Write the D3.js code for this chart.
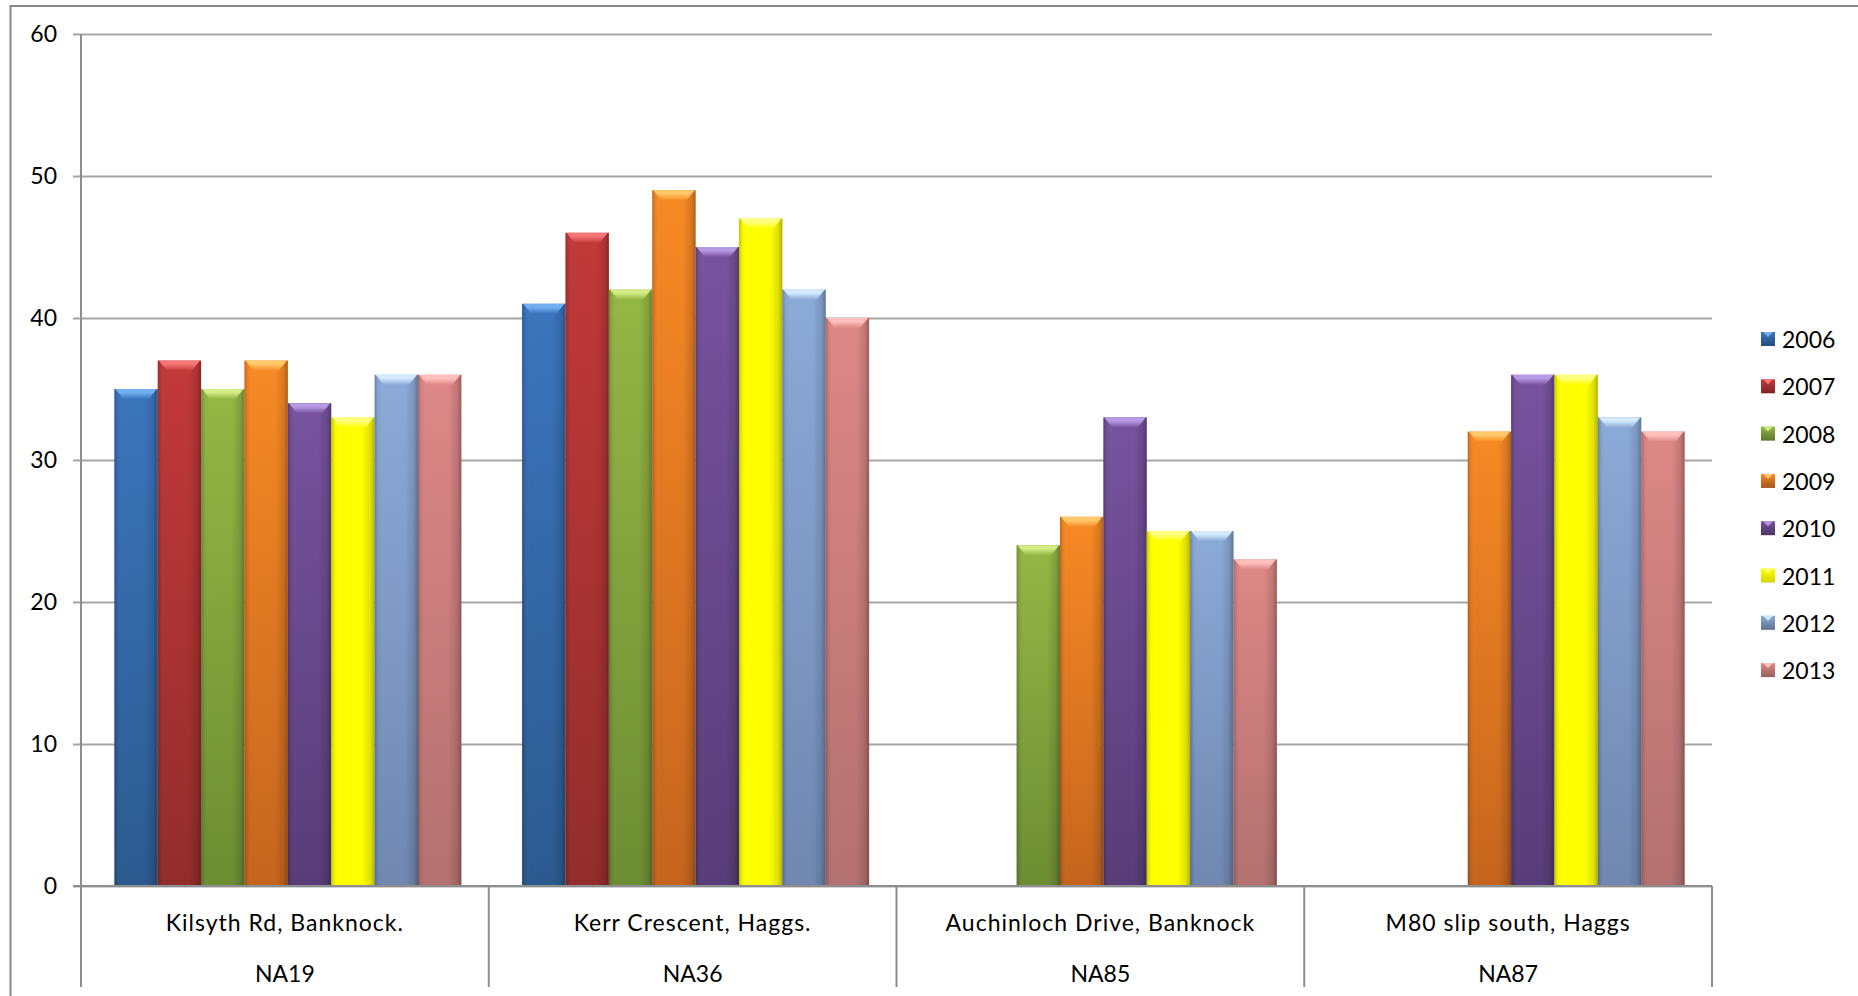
<!DOCTYPE html>
<html>
<head>
<meta charset="utf-8">
<script src="https://cdn.jsdelivr.net/npm/d3@7"></script>
<style>
  html, body { margin: 0; padding: 0; background: #fff; overflow: hidden; }
  text { font-family: Lato, "Liberation Sans", sans-serif; fill: #000; }
</style>
</head>
<body>
<svg id="chart" width="1858" height="996"></svg>
<script>
// Monitoring sites (category axis, two label rows)
const sites = ["NA19", "NA36", "NA85", "NA87"];
const siteNames = ["Kilsyth Rd, Banknock.", "Kerr Crescent, Haggs.", "Auchinloch Drive, Banknock", "M80 slip south, Haggs"];

// Annual means per site (null = no measurement that year)
const years = ["2006", "2007", "2008", "2009", "2010", "2011", "2012", "2013"];
const values2006 = [35, 41, null, null];
const values2007 = [37, 46, null, null];
const values2008 = [35, 42, 24, null];
const values2009 = [37, 49, 26, 32];
const values2010 = [34, 45, 33, 36];
const values2011 = [33, 47, 25, 36];
const values2012 = [36, 42, 25, 33];
const values2013 = [36, 40, 23, 32];
const seriesValues = [values2006, values2007, values2008, values2009, values2010, values2011, values2012, values2013];

const yTicks = [0, 10, 20, 30, 40, 50, 60];

// Series fill: top tone, bottom tone, bevel highlight
const topColors    = ["#3b75bd", "#c3393a", "#95b745", "#f88a25", "#77539e", "#ffff00", "#8caad8", "#dd8886"];
const bottomColors = ["#2c5a8f", "#922d2c", "#6d8d33", "#c5651e", "#583d78", "#ffff00", "#7088b0", "#b37170"];
const glowColors   = ["#72aef0", "#f47676", "#d3ec84", "#ffc86a", "#b89ae4", "#ffff80", "#d2eaff", "#ffc0bc"];

const svg = d3.select("#chart");
const L = 81, R = 1712, T = 34, B = 886, AXIS_BOTTOM = 987;
const BAR_SHIFT = 3;

const x0 = d3.scaleBand().domain(sites).range([L, R]).paddingInner(0).paddingOuter(0);
const x1 = d3.scaleBand().domain(years)
  .range([BAR_SHIFT, x0.bandwidth() + BAR_SHIFT]).paddingInner(0).paddingOuter(0.7);
const y = d3.scaleLinear().domain([0, 60]).range([B, T]);

// Gradients
const defs = svg.append("defs");
years.forEach((yr, i) => {
  const vg = defs.append("linearGradient").attr("id", "vg" + i)
    .attr("x1", 0).attr("y1", 0).attr("x2", 0).attr("y2", 1);
  vg.append("stop").attr("offset", "0%").attr("stop-color", topColors[i]);
  vg.append("stop").attr("offset", "100%").attr("stop-color", bottomColors[i]);

  const bg = defs.append("linearGradient").attr("id", "bg" + i)
    .attr("x1", 0).attr("y1", 0).attr("x2", 0).attr("y2", 1);
  bg.append("stop").attr("offset", "0%").attr("stop-color", glowColors[i]);
  bg.append("stop").attr("offset", "35%").attr("stop-color", glowColors[i]);
  bg.append("stop").attr("offset", "100%").attr("stop-color", topColors[i]);

  const lg = defs.append("linearGradient").attr("id", "lg" + i)
    .attr("x1", 0).attr("y1", 0).attr("x2", 0).attr("y2", 1);
  lg.append("stop").attr("offset", "0%").attr("stop-color", topColors[i]);
  lg.append("stop").attr("offset", "100%").attr("stop-color", d3.color(bottomColors[i]).darker(0.5));
});
const hs = defs.append("linearGradient").attr("id", "hshade")
  .attr("x1", 0).attr("y1", 0).attr("x2", 1).attr("y2", 0);
[[0, "#000000", 0.25], [0.04, "#000000", 0.12], [0.08, "#000000", 0.04], [0.2, "#ffffff", 0.0], [0.7, "#000000", 0.0], [0.9, "#000000", 0.12], [1, "#000000", 0.3]]
  .forEach(([o, c, a]) => hs.append("stop").attr("offset", o).attr("stop-color", c).attr("stop-opacity", a));

// Outer chart frame
svg.append("rect").attr("x", 10.5).attr("y", 6).attr("width", 2000).attr("height", 2000)
  .attr("fill", "none").attr("stroke", "#878787").attr("stroke-width", 2);

// Gridlines and value labels
svg.append("g").attr("transform", `translate(${L},0)`)
  .call(d3.axisLeft(y).tickValues(yTicks).tickSize(-(R - L)).tickPadding(24))
  .call(g => {
    g.select(".domain").remove();
    g.selectAll(".tick line").attr("x1", -8).attr("stroke", "#a6a6a6").attr("stroke-width", 2);
    g.selectAll(".tick text").attr("font-size", 23).attr("font-family", "Lato, 'Liberation Sans', sans-serif").attr("fill", "#000");
  });

// Bars
const groups = svg.append("g").selectAll("g").data(sites).join("g")
  .attr("transform", d => `translate(${x0(d)},0)`);

groups.each(function (site, si) {
  const g = d3.select(this);
  years.forEach((yr, i) => {
    const v = seriesValues[i][si];
    if (v == null) return;
    const bx = x1(yr), bw = x1.bandwidth(), by = y(v), bh = y(0) - y(v);
    g.append("rect").attr("x", bx).attr("y", by).attr("width", bw).attr("height", bh).attr("fill", `url(#vg${i})`);
    g.append("rect").attr("x", bx).attr("y", by).attr("width", bw).attr("height", bh).attr("fill", "url(#hshade)");
    const bev = 10, ins = 9;
    g.append("polygon")
      .attr("points", [[bx + 1, by], [bx + bw - 1, by], [bx + bw - ins, by + bev], [bx + ins, by + bev]].map(p => p.join(",")).join(" "))
      .attr("fill", `url(#bg${i})`);
  });
});

// Baseline
svg.append("line").attr("x1", L - 8).attr("x2", R).attr("y1", y(0)).attr("y2", y(0))
  .attr("stroke", "#8e8e8e").attr("stroke-width", 2);

// Value axis line (continues down as first category divider)
svg.append("line").attr("x1", L).attr("x2", L).attr("y1", y(60)).attr("y2", AXIS_BOTTOM)
  .attr("stroke", "#8e8e8e").attr("stroke-width", 2);

// Category dividers
const edges = sites.map(s => x0(s) + x0.bandwidth());
svg.append("g").selectAll("line").data(edges).join("line")
  .attr("x1", d => d).attr("x2", d => d).attr("y1", y(0)).attr("y2", AXIS_BOTTOM)
  .attr("stroke", "#8e8e8e").attr("stroke-width", 2);

// Category labels: site name row, site code row
svg.append("g").selectAll("text").data(siteNames).join("text")
  .attr("x", (d, i) => x0(sites[i]) + x0.bandwidth() / 2).attr("y", 922)
  .attr("text-anchor", "middle").attr("dominant-baseline", "central").attr("font-size", 23)
  .attr("letter-spacing", 1)
  .text(d => d);
svg.append("g").selectAll("text").data(sites).join("text")
  .attr("x", d => x0(d) + x0.bandwidth() / 2).attr("y", 973)
  .attr("text-anchor", "middle").attr("dominant-baseline", "central").attr("font-size", 23)
  .text(d => d);

// Legend
const legend = svg.append("g").selectAll("g").data(years).join("g")
  .attr("transform", (d, i) => `translate(1761, ${339 + i * 47.3})`);
legend.append("rect").attr("x", 0).attr("y", -7).attr("width", 14).attr("height", 14)
  .attr("fill", (d, i) => `url(#lg${i})`);
legend.append("polygon").attr("points", "2,-7 12,-7 7,-2").attr("fill", (d, i) => glowColors[i]);
legend.append("text").attr("x", 21).attr("y", 0).attr("dominant-baseline", "central")
  .attr("font-size", 23).text(d => d);
</script>
</body>
</html>
